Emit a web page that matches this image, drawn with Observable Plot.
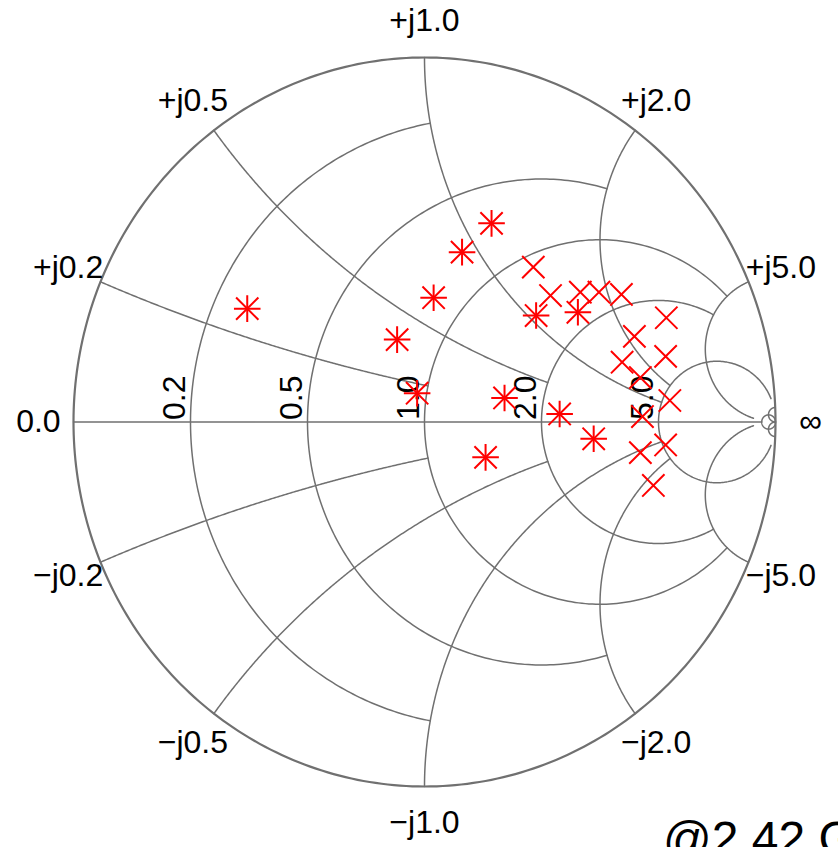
<!DOCTYPE html>
<html><head><meta charset="utf-8">
<script src="https://cdn.jsdelivr.net/npm/d3@7"></script>
<script src="https://cdn.jsdelivr.net/npm/@observablehq/plot@0.6"></script>
<style>
html,body{margin:0;padding:0;background:#fff;overflow:hidden;width:838px;height:847px;}
#chart{position:absolute;left:0;top:0;}
#note{position:absolute;left:663px;top:815px;font-size:48px;font-family:"Liberation Sans",Arial,sans-serif;line-height:1;white-space:nowrap;color:#000;}
</style></head>
<body><div id="chart"></div><div id="note">@2.42 GHz</div>
<script>
// ---- grid ticks (normalized impedance) ----
const resistanceTicks = [0.2, 0.5, 1.0, 2.0, 5.0];
const resistanceLabels = ["0.2", "0.5", "1.0", "2.0", "5.0"];
const reactanceTicks = [0.2, 0.5, 1.0, 2.0, 5.0];
const reactanceLabels = ["0.2", "0.5", "1.0", "2.0", "5.0"];
// reactance (resp. resistance) at which each grid line stops
const resistanceStop = [1, 2, 5, 5, 30];
const reactanceStop = [1, 2, 5, 5, 30];
const fineTick = 50;

// ---- measured reflection coefficients ----
// series 1 (asterisks)
const starRe = [-0.505, -0.078, -0.021, 0.026, 0.107, 0.191, 0.318, 0.437, 0.228, 0.385, 0.482, 0.174];
const starIm = [0.311, 0.226, 0.079, 0.341, 0.466, 0.545, 0.292, 0.301, 0.066, 0.022, -0.046, -0.097];
// series 2 (crosses)
const crossRe = [0.310, 0.359, 0.444, 0.497, 0.561, 0.689, 0.598, 0.687, 0.563, 0.615, 0.699, 0.621, 0.687, 0.615, 0.652];
const crossIm = [0.425, 0.347, 0.356, 0.356, 0.350, 0.286, 0.235, 0.180, 0.164, 0.122, 0.059, 0.015, -0.063, -0.084, -0.174];

// ---- geometry helpers ----
function gamma(r, x) {
  if (!isFinite(r) || !isFinite(x)) return [1, 0];
  const d = (r + 1) * (r + 1) + x * x;
  return [(r * r + x * x - 1) / d, 2 * x / d];
}
const N = 240;
const grid = [];
let gid = 0;
function rCircle(r, xm) {
  const c = r / (1 + r), R = 1 / (1 + r);
  let a = 0;
  if (isFinite(xm)) { const g = gamma(r, xm); a = Math.atan2(g[1], g[0] - c); }
  const id = gid++;
  for (let i = 0; i <= N; i++) {
    const t = a + (2 * Math.PI - 2 * a) * i / N;
    grid.push({u: c + R * Math.cos(t), v: R * Math.sin(t), id});
  }
}
function xArc(x, rm) {
  const cy = 1 / x, R = 1 / x;
  const g0 = gamma(0, x), g1 = gamma(rm, x);
  let a0 = Math.atan2(g0[1] - cy, g0[0] - 1); if (a0 < 0) a0 += 2 * Math.PI;
  let a1 = isFinite(rm) ? Math.atan2(g1[1] - cy, g1[0] - 1) : 1.5 * Math.PI; if (a1 < 0) a1 += 2 * Math.PI;
  for (const s of [1, -1]) {
    const id = gid++;
    for (let i = 0; i <= N; i++) {
      const t = a0 + (a1 - a0) * i / N;
      grid.push({u: 1 + R * Math.cos(t), v: s * (cy + R * Math.sin(t)), id});
    }
  }
}
resistanceTicks.forEach((r, i) => rCircle(r, resistanceStop[i]));
rCircle(fineTick, Infinity);
reactanceTicks.forEach((x, i) => xArc(x, reactanceStop[i]));
xArc(fineTick, Infinity);
// real axis
const axisId = gid++;
grid.push({u: gamma(0, 0)[0], v: 0, id: axisId}, {u: gamma(fineTick, 0)[0], v: 0, id: axisId});

const outer = [];
for (let i = 0; i <= 360; i++) { const t = 2 * Math.PI * i / 360; outer.push({u: Math.cos(t), v: Math.sin(t)}); }

// labels
const realLab = resistanceTicks.map((r, i) => ({u: gamma(r, 0)[0], v: 0, t: resistanceLabels[i]}));
const imagLab = [{u: -1.1, v: 0, t: "0.0"}, {u: 1.1, v: 0, t: "\u221e"}];
reactanceTicks.forEach((x, i) => {
  const g = gamma(0, x);
  imagLab.push({u: 1.1 * g[0], v: 1.1 * g[1], t: "+j" + reactanceLabels[i]});
  imagLab.push({u: 1.1 * g[0], v: -1.1 * g[1], t: "\u2212j" + reactanceLabels[i]});
});

const stars = starRe.map((u, i) => ({u, v: starIm[i]}));
const crosses = crossRe.map((u, i) => ({u, v: crossIm[i]}));

const gridColor = "#707070";
const chart = Plot.plot({
  width: 838, height: 847, margin: 0,
  x: {domain: [-1, 1], range: [73, 775], axis: null},
  y: {domain: [-1, 1], range: [786, 57], axis: null},
  style: {fontFamily: '"Liberation Sans", Arial, sans-serif', background: "white", overflow: "visible"},
  marks: [
    Plot.line(grid, {x: "u", y: "v", z: "id", stroke: gridColor, strokeWidth: 1.5, curve: "linear"}),
    Plot.line(outer, {x: "u", y: "v", stroke: gridColor, strokeWidth: 2.2}),
    Plot.text(realLab, {x: "u", y: "v", text: "t", rotate: -90, textAnchor: "start", lineAnchor: "bottom", dx: -6, dy: -2, fontSize: 32, fill: "black"}),
    Plot.text(imagLab, {x: "u", y: "v", text: "t", textAnchor: "middle", lineAnchor: "middle", fontSize: 32, fill: "black"}),
    Plot.dot(stars, {x: "u", y: "v", symbol: "plus", r: 8.6, stroke: "#ff0000", strokeWidth: 2}),
    Plot.dot(stars, {x: "u", y: "v", symbol: "times", r: 10.2, stroke: "#ff0000", strokeWidth: 2}),
    Plot.dot(crosses, {x: "u", y: "v", symbol: "times", r: 10.2, stroke: "#ff0000", strokeWidth: 2})
  ]
});
document.getElementById("chart").append(chart);
</script>
</body></html>
